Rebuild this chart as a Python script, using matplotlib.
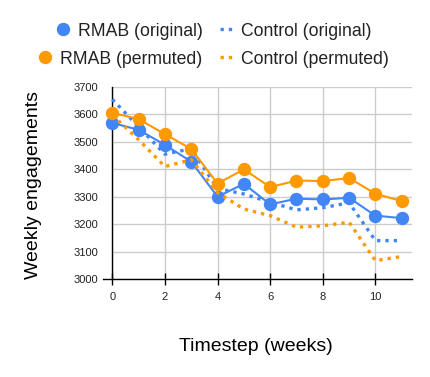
import matplotlib
matplotlib.use("Agg")
import matplotlib.pyplot as plt
from matplotlib.lines import Line2D

plt.rcParams['font.family'] = ['Liberation Sans', 'DejaVu Sans']

weeks = list(range(12))
rmab_original = [3569, 3544, 3489, 3428, 3300, 3347, 3272, 3293, 3290, 3296, 3231, 3222]
control_original = [3655, 3555, 3455, 3475, 3330, 3310, 3280, 3252, 3260, 3278, 3140, 3140]
rmab_permuted = [3606, 3583, 3528, 3474, 3348, 3400, 3335, 3359, 3357, 3368, 3311, 3284]
control_permuted = [3598, 3508, 3410, 3435, 3315, 3255, 3231, 3189, 3194, 3207, 3067, 3082]
labels = ["RMAB (original)", "Control (original)", "RMAB (permuted)", "Control (permuted)"]
y_ticks = [3000, 3100, 3200, 3300, 3400, 3500, 3600, 3700]
x_ticks = [0, 2, 4, 6, 8, 10]

BLUE = "#4285F4"
ORANGE = "#FF9900"

fig = plt.figure(figsize=(4.30, 3.77), dpi=100)
ax = fig.add_axes([0.2612, 0.2599, 0.6963, 0.5093])

dot = (0, (1, 1.5))
ax.plot(weeks, rmab_original, color=BLUE, lw=1.5, marker='o', ms=8.6, clip_on=False, zorder=3)
ax.plot(weeks, control_original, color=BLUE, lw=2.4, ls=dot, clip_on=False, zorder=3)
ax.plot(weeks, rmab_permuted, color=ORANGE, lw=1.5, marker='o', ms=8.6, clip_on=False, zorder=4)
ax.plot(weeks, control_permuted, color=ORANGE, lw=2.4, ls=dot, clip_on=False, zorder=4)

ax.set_xlim(0, 11.38)
ax.set_ylim(3000, 3700)
ax.set_xticks(x_ticks)
ax.set_yticks(y_ticks)
ax.grid(True, color="#cccccc", lw=1)
ax.set_axisbelow(True)
for s in ['top', 'right', 'bottom']:
    ax.spines[s].set_visible(False)
ax.spines['left'].set_color('black')
ax.spines['left'].set_linewidth(1)
# baseline extending slightly left of the y axis
ax.add_line(Line2D([-0.03, 1.0], [0, 0], transform=ax.transAxes, color='black', lw=1, clip_on=False, zorder=2))

ax.tick_params(axis='x', direction='inout', length=8, width=1, color='black', labelsize=8, pad=5, labelcolor='#222222')
ax.tick_params(axis='y', length=0, labelsize=8, pad=10, labelcolor='#222222')

ax.set_xlabel("Timestep (weeks)", fontsize=14, va='center')
ax.set_ylabel("Weekly engagements", fontsize=14, va='center')
ax.xaxis.set_label_coords(0.479, -0.3526)
ax.yaxis.set_label_coords(-0.264, 0.49)

h_ro = Line2D([], [], color=BLUE, marker='o', ms=8.6, ls='none')
h_co = Line2D([], [], color=BLUE, lw=2.4, ls=dot)
h_rp = Line2D([], [], color=ORANGE, marker='o', ms=8.6, ls='none')
h_cp = Line2D([], [], color=ORANGE, lw=2.4, ls=dot)

common = dict(loc='center', ncol=2, frameon=False, fontsize=12.7, handlelength=0.7,
              handletextpad=0.5, columnspacing=1.0, borderpad=0, borderaxespad=0)
leg1 = fig.legend([h_ro, h_co], labels[0:2], bbox_to_anchor=(0.498, 1 - 31 / 377), **common)
leg2 = fig.legend([h_rp, h_cp], labels[2:4], bbox_to_anchor=(0.498, 1 - 59 / 377), **common)
for leg in (leg1, leg2):
    for t in leg.get_texts():
        t.set_color('#222222')

fig.savefig("out.png", dpi=100)
